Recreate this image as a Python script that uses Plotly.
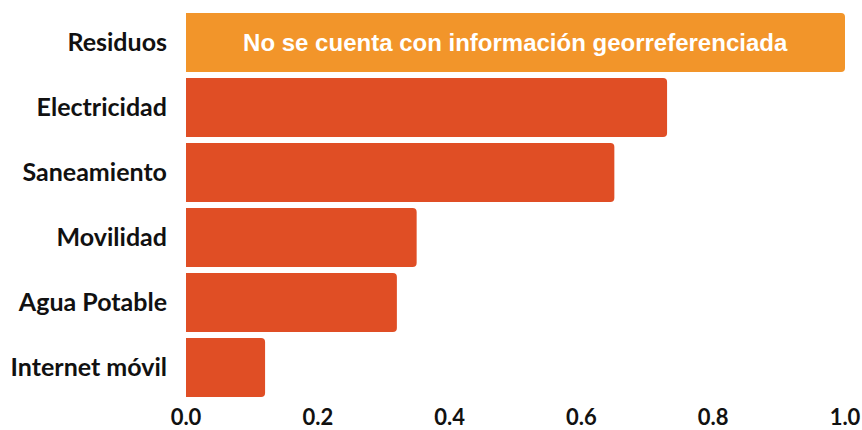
import plotly.graph_objects as go

categories = ["Residuos", "Electricidad", "Saneamiento", "Movilidad", "Agua Potable", "Internet móvil"]
values = [1.0, 0.73, 0.65, 0.35, 0.32, 0.12]
bar_colors = ["#F2952A", "#E04E25", "#E04E25", "#E04E25", "#E04E25", "#E04E25"]
bar_texts = ["No se cuenta con información georreferenciada", "", "", "", "", ""]
tick_vals = [0.0, 0.2, 0.4, 0.6, 0.8, 1.0]
tick_text = ["0.0", "0.2", "0.4", "0.6", "0.8", "1.0"]

fig = go.Figure(go.Bar(
    x=values,
    y=categories,
    orientation="h",
    marker=dict(color=bar_colors, line=dict(width=0)),
    text=bar_texts,
    textposition="inside",
    insidetextanchor="middle",
    constraintext="none",
    textfont=dict(family="Liberation Sans, Arial", size=24, color="white", weight="bold"),
    hoverinfo="skip",
))

fig.update_layout(
    width=862, height=430,
    margin=dict(l=186, r=17, t=10, b=30),
    paper_bgcolor="white",
    plot_bgcolor="white",
    bargap=0.09,
    barcornerradius=4,
    showlegend=False,
    font=dict(family="Lato", color="#111111"),
)
fig.update_xaxes(
    range=[0, 1.0],
    tickvals=tick_vals,
    ticktext=tick_text,
    showgrid=False, zeroline=False, showline=False,
    tickfont=dict(family="Lato", size=22, color="#111111", weight="bold"),
    ticklabelstandoff=2,
    ticklabeloverflow="allow",
    automargin=False,
)
fig.update_yaxes(
    categoryorder="array",
    categoryarray=categories[::-1],
    showgrid=False, zeroline=False, showline=False,
    tickfont=dict(family="Lato", size=25, color="#111111", weight="bold"),
    ticklabelstandoff=18,
    automargin=False,
)

fig.write_html(
    "out.html",
    config={"displayModeBar": False, "staticPlot": True},
    post_script="document.body.style.margin='0';document.body.style.overflow='hidden';",
)
